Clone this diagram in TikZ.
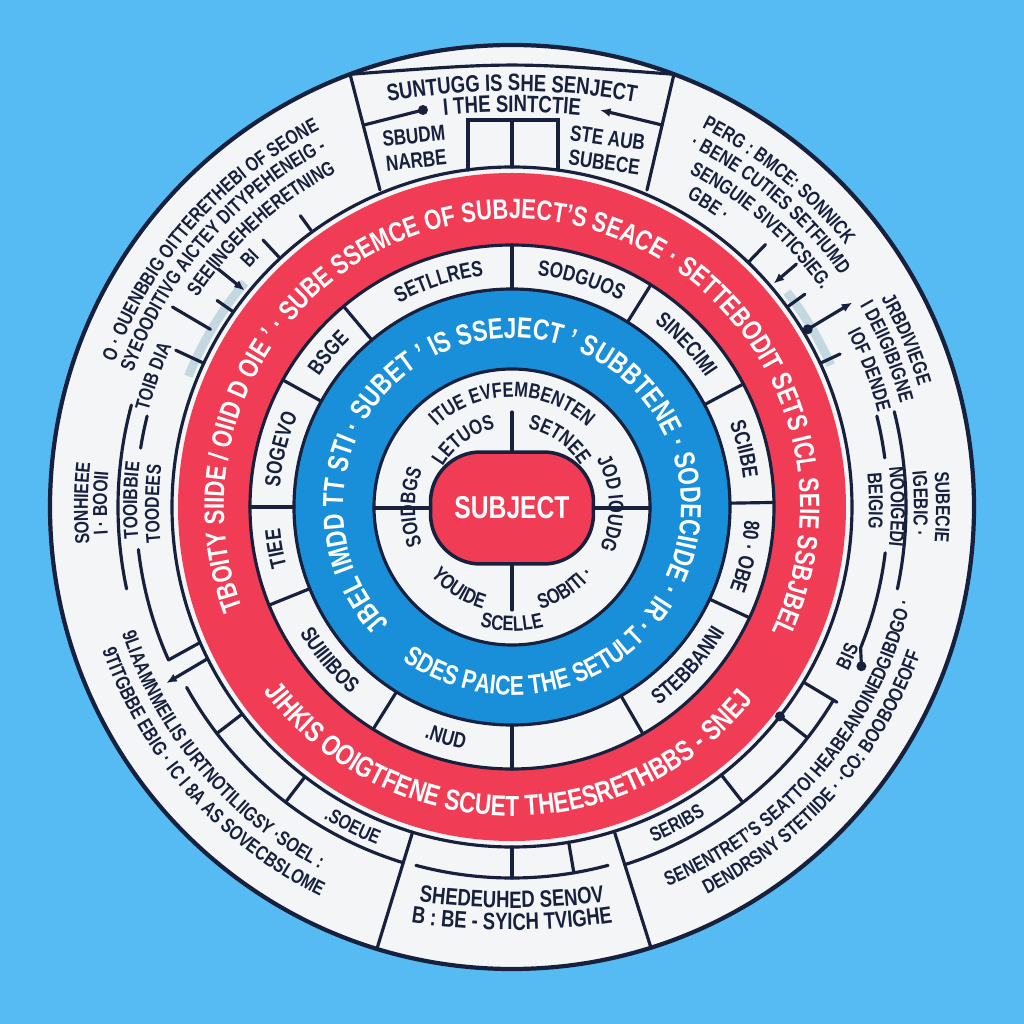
\documentclass[tikz,border=0pt]{standalone}
\usepackage{fontspec}
\setmainfont{Liberation Sans}[FakeStretch=0.78]
\usetikzlibrary{decorations.text,arrows.meta}
\definecolor{bgblue}{HTML}{55BBF2}
\definecolor{ringblue}{HTML}{1A8FD9}
\definecolor{ringred}{HTML}{F03D55}
\definecolor{paper}{HTML}{F3F5F7}
\definecolor{navy}{HTML}{17203D}
\definecolor{haze}{HTML}{C4D8E2}
\newcommand\arctext[5]{\path[decorate,decoration={text along path,text align=center,text={|#1|#5}}] (#3:#2) arc[start angle=#3,end angle=#4,radius=#2];}
\newcommand\shiftarc[6]{\path[decorate,decoration={text along path,text align=center,text={|#1|#6}}] ([shift={(0,#2)}]#4:#3) arc[start angle=#4,end angle=#5,radius=#3];}
\newcommand\fRing{\color{white}\bfseries\fontsize{16}{16}\selectfont}
\newcommand\fRingB{\color{white}\bfseries\fontsize{16.5}{16.5}\selectfont}
\newcommand\fBlue{\color{white}\bfseries\fontsize{16.5}{16.5}\selectfont}
\newcommand\fBlueB{\color{white}\bfseries\fontsize{15.5}{15.5}\selectfont}
\newcommand\fOut{\color{navy}\bfseries\fontsize{11.5}{11.5}\selectfont}
\newcommand\fSeg{\color{navy}\bfseries\fontsize{12.5}{12.5}\selectfont}
\newcommand\fIn{\color{navy}\bfseries\fontsize{12}{12}\selectfont}
\newcommand\fTop{\color{navy}\bfseries\fontsize{13.5}{13.5}\selectfont}
\begin{document}
\begin{tikzpicture}[x=0.02cm,y=0.02cm,
  ln/.style={navy,line width=1.8pt,line cap=round},
  boxlabel/.style={text=navy,font=\bfseries\fontsize{12.5}{14}\selectfont,align=center,inner sep=0pt},
  subjbox/.style={draw=navy,line width=2pt,fill=ringred,rounded corners=1cm,minimum width=3.26cm,minimum height=2.24cm,text=white,font=\bfseries\fontsize{18}{18}\selectfont}]
\useasboundingbox (-512,-517) rectangle (512,507);
\fill[bgblue] (-512,-517) rectangle (512,507);
% discs and rings
\draw[navy,line width=2.4pt,fill=paper] (0,0) circle[radius=462];
\draw[haze,line width=5pt] (140:349) arc[start angle=140,end angle=158,radius=349];
\draw[haze,line width=5pt] (24:349) arc[start angle=24,end angle=38,radius=349];
\draw[ln] (0,0) circle[radius=340];
\fill[ringred] (0,0) circle[radius=334];
\draw[ln,fill=paper] (0,0) circle[radius=262];
\draw[ln,fill=ringblue] (0,0) circle[radius=218];
\draw[ln,fill=paper] (0,0) circle[radius=138];
% ring dividers
\foreach \a in {90,58,28,1,-25,-60,-90,-122,-158,180,151,130}
  \draw[ln] (\a:218) -- (\a:262);
% centre
\node[subjbox] (subj) at (0,-1) {SUBJECT};
\draw[ln] (subj.north) -- (0,95);
\draw[ln] (subj.south) -- (0,-103);
\draw[ln] (subj.west) -- (-138,-1);
\draw[ln] (subj.east) -- (138,-1);
% top box
\draw[ln] (110.5:462) .. controls (0,445) .. (69.5:462);
\draw[ln] (-162,433) -- (-132,317);
\draw[ln] (162,433) -- (135,317);
\draw[ln] (-44,337) -- (-44,387) -- (46,387) -- (46,337);
\draw[ln] (0,387) -- (0,340);
\draw[ln] (-148,382) -- (-89,397);
\fill[navy] (-89,397) circle[radius=5];
\draw[ln,{Latex[length=6pt,width=5pt]}-] (88,397) -- (150,382);
% bottom box
\draw[ln] (253:340) -- (253:462);
\draw[ln] (287.5:340) -- (287.5:462);
\draw[ln] (255:371) arc[start angle=255,end angle=285,radius=371];
\draw[ln] (270:340) -- (270:371);
\draw[ln] (279.6:340) -- (279.6:371);
% upper-left marks
\draw[ln] (126:341) -- (126:360);
\draw[ln] (133:341) -- (133:365);
\draw[ln] (145:341) -- (145:360);
\draw[ln] (149.5:350) -- (149.5:394);
\draw[ln] (155:342) -- (155:371);
\draw[ln,-{Latex[length=6pt,width=5pt]}] (141:378) -- (141:344);
% upper-right marks
\draw[ln] (46:341) -- (46:365);
\draw[ln] (36:341) -- (36:362);
\draw[ln] (25:341) -- (25:362);
\draw[ln,-{Latex[length=6pt,width=5pt]}] (40.5:374) -- (40.5:344);
\draw[ln,-{Latex[length=6pt,width=5pt]}] (31:345) -- (31:397);
\fill[navy] (31:345) circle[radius=5];
% left arcs
\draw[ln] (165:394) arc[start angle=165,end angle=192,radius=394];
\draw[ln] (166:376) arc[start angle=166,end angle=171,radius=376];
\draw[ln] (186.5:376) arc[start angle=186.5,end angle=204,radius=376];
\draw[ln] (203.5:341) -- (204:376);
\draw[ln,-{Latex[length=6pt,width=5pt]}] (206.5:341) -- (207:388);
% right arcs
\draw[ln] (14:394) arc[start angle=14,end angle=-12,radius=394];
\draw[ln] (14:376) arc[start angle=14,end angle=7.5,radius=376];
\draw[ln] (-7:376) arc[start angle=-7,end angle=-22,radius=376] -- (-24.5:384);
\fill[navy] (-24.5:384) circle[radius=5];
% lower-left
\draw[ln] (209:372) arc[start angle=209,end angle=253,radius=372];
\draw[ln] (217.5:340) -- (217.5:372);
\draw[ln] (232.5:340) -- (232.5:372);
% lower-right
\draw[ln] (-72.5:375) arc[start angle=-72.5,end angle=-31,radius=375];
\draw[ln] (-52:340) -- (-52:375);
\draw[ln] (-38:340) -- (-38:375);
\draw[ln] (-31:340) -- (-31:379);
\fill[navy] (-38:340) circle[radius=5];
% red ring text
\arctext{\fRing}{288}{202}{-27}{TBOITY SIIDE / OIID D OIE ' · SUBE SSEMCE OF SUBJECT'S SEACE · SETTEBODIT SETS ICL SEIE SSBJBEL}
\arctext{\fRingB}{309}{212}{326}{JIHKIS OOIGTFENE SCUET THEESRETHBBS - SNEJ}
% blue ring text
\arctext{\fBlue}{169}{225}{-45}{JBEL IMDD TT STI · SUBET ' IS SSEJECT ' SUBBTENE · SODECIIDE · IR ·}
\arctext{\fBlueB}{188}{232}{318}{SDES PAICE THE SETULT}
% segment labels
\arctext{\fSeg}{233}{133}{83}{SETLLRES}
\arctext{\fSeg}{233}{98}{48}{SODGUOS}
\arctext{\fSeg}{233}{68}{18}{SINECIMI}
\arctext{\fSeg}{233}{39}{-11}{SCIIBE}
\arctext{\fSeg}{233}{13}{-37}{80 · OBE}
\arctext{\fSeg}{233}{215}{165}{TIEE}
\arctext{\fSeg}{233}{191}{141}{SOGEVO}
\arctext{\fSeg}{233}{165}{115}{BSGE}
\arctext{\fSeg}{247}{-67}{-17}{STEBBANNI}
\arctext{\fSeg}{247}{229}{279}{.NUD}
\arctext{\fSeg}{247}{195}{245}{SUIIIIBOS}
% inner labels
\arctext{\fIn}{110}{145}{35}{ITUE EVFEMBENTEN}
\arctext{\fIn}{80}{160}{92}{LETUOS}
\arctext{\fIn}{80}{89}{21}{SETNEE}
\arctext{\fIn}{97}{36}{-32}{JOD IOUDG}
\arctext{\fIn}{106}{-89}{-25}{SOBITI ·}
\arctext{\fIn}{124}{-114}{-66}{SCELLE}
\arctext{\fIn}{106}{205}{269}{YOUIDE}
\arctext{\fIn}{97}{214}{146}{SOIDBGS}
% top box text
\shiftarc{\fTop}{-284}{700}{102}{78}{SUNTUGG IS SHE SENJECT}
\shiftarc{\fTop}{-305}{700}{99}{81}{I THE SINTCTIE}
\node[boxlabel,rotate=6] (sbudm) at (-97,359) {SBUDM\\NARBE};
\node[boxlabel,rotate=-8] (steaub) at (94,357) {STE AUB\\SUBECE};
% bottom box text
\shiftarc{\fTop}{299}{700}{261}{279}{SHEDEUHED SENOV}
\shiftarc{\fTop}{277}{700}{260}{280}{B : BE - SYICH TVIGHE}
% left columns
\arctext{\fOut}{424}{190}{169}{SONHIEEE}
\arctext{\fOut}{405}{190}{169}{I · BOOII}
\arctext{\fOut}{375}{189}{169}{TOOIBBIE}
\arctext{\fOut}{353}{188}{171}{TOODEES}
% upper-left
\arctext{\fOut}{423}{164}{113}{O · OUENBBIG OITTERETHEBI OF SEONE}
\arctext{\fOut}{402}{165}{113}{SYEOODITIVG AICTEY DITYPEHENEIG -}
\arctext{\fOut}{376}{167}{153}{TOIB DIA}
\arctext{\fOut}{378}{148}{116}{SEEIINGEHEHERETNING}
\arctext{\fOut}{355}{140}{133}{BI}
% upper-right
\arctext{\fOut}{424}{66.5}{35}{PERG : BMCE: SONNICK}
\arctext{\fOut}{424}{32}{14}{JRBDIVIEGE}
\arctext{\fOut}{424}{8}{-8}{SUBECIE}
\arctext{\fOut}{402}{66}{33}{· BENE CUTIES SETFIUMD}
\arctext{\fOut}{402}{32}{13}{I DEIIGIBIGNE}
\arctext{\fOut}{402}{8}{-7}{IGEBIC ·}
\arctext{\fOut}{378}{65}{32}{SENGUIE SIVETICSIEG.}
\arctext{\fOut}{378}{29}{13}{IOF DENDE}
\arctext{\fOut}{379}{8}{-8}{NOOIGEDI}
\arctext{\fOut}{355}{62}{52}{GBE ·}
\arctext{\fOut}{357}{7}{-5}{BEIGIG}
% lower-left
\arctext{\fOut}{434}{193}{250}{9TITGBBE EBIG · IC   I 8A AS SOVECBSLOME}
\arctext{\fOut}{410}{192}{248}{9LIAAMNMEILIS IURTNOTILIIGSY ·SOEL :}
\arctext{\fOut}{364}{235}{252}{.SOEUE}
% lower-right
\arctext{\fOut}{434}{-70}{-13}{DENDRSNY STETIIDE · ·CO: BOOBOOEOFF}
\arctext{\fOut}{410}{-70}{-11}{SENENTRET'S SEATTOI HEABEANOINEDGIBDGO ·}
\arctext{\fOut}{364}{-72}{-53}{SERIBS}
\arctext{\fOut}{374}{-29}{-19}{BIS}
\end{tikzpicture}
\end{document}
